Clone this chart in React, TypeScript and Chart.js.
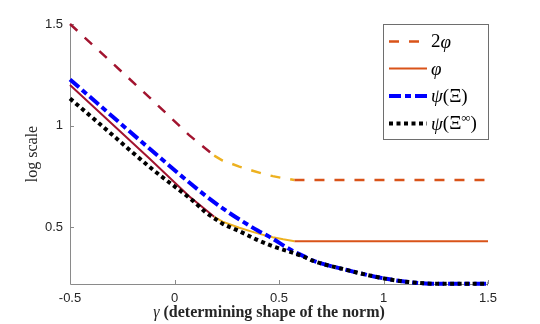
import React, { useEffect, useRef } from "react";
import { Chart, registerables } from "chart.js";

Chart.register(...registerables);

// ---- data ----
const phiGamma = [-0.5, -0.12, 0.07, 0.19, 0.23, 0.31, 0.37, 0.42, 0.47, 0.52, 0.574, 1.5];
const phiValues = [1.2, 0.838, 0.652, 0.551, 0.527, 0.497, 0.478, 0.463, 0.45, 0.44, 0.431, 0.431];
const twoPhiValues = [1.5, 1.139, 0.953, 0.852, 0.828, 0.798, 0.779, 0.764, 0.751, 0.741, 0.732, 0.732];

const psiGamma = [-0.5, -0.12, 0.136, 0.255, 0.335, 0.4, 0.455, 0.55, 0.62, 0.66, 0.82, 0.98, 1.1, 1.2, 1.25, 1.5];
const psiValues = [1.227, 0.887, 0.665, 0.575, 0.522, 0.482, 0.452, 0.392, 0.356, 0.336, 0.29, 0.252, 0.232, 0.223, 0.221, 0.221];

const psiInfGamma = [-0.5, -0.36, -0.1, 0.09, 0.15, 0.2, 0.23, 0.31, 0.39, 0.47, 0.55, 0.62, 0.66, 0.82, 0.98, 1.1, 1.2, 1.25, 1.5];
const psiInfValues = [1.133, 1.01, 0.78, 0.628, 0.572, 0.537, 0.517, 0.48, 0.44, 0.406, 0.379, 0.354, 0.335, 0.29, 0.252, 0.232, 0.223, 0.221, 0.221];

const xTicks = [-0.5, 0, 0.5, 1, 1.5];
const yTicks = [0.5, 1, 1.5];
const legendLabels = ["2φ", "φ", "ψ(Ξ)", "ψ(Ξ∞)"];
const xTitle = "γ (determining shape of the norm)";
const yTitle = "log scale";

// ---- styles ----
const CRIMSON = "#A2142F";
const YELLOW = "#EDB120";
const ORANGE = "#D95319";
const BLUE = "#0000FF";
const BLACK = "#000000";
const AXIS = "#8a8a8a";
const SERIF = "'Liberation Serif', 'DejaVu Serif', serif";
const SANS = "'Liberation Sans', Arial, sans-serif";

const toPts = (xs: number[], ys: number[]) => xs.map((x, i) => ({ x, y: ys[i] }));
const segColor = (ctx: any) => {
  const x = ctx.p0.parsed.x;
  return x < 0.18 ? CRIMSON : x < 0.57 ? YELLOW : ORANGE;
};

type Run = { t: string; italic?: boolean; bold?: boolean; sup?: boolean };

function toRuns(s: string): Run[] {
  const runs: Run[] = [];
  for (const ch of s) {
    if (/[α-ω]/.test(ch)) runs.push({ t: ch, italic: true });
    else if (ch === "∞") runs.push({ t: ch, sup: true });
    else runs.push({ t: ch });
  }
  return runs;
}

function fontFor(r: Run, size: number) {
  const s = r.sup ? Math.round(size * 0.7) : size;
  return `${r.italic ? "italic " : ""}${r.bold ? "bold " : ""}${s}px ${SERIF}`;
}

function runsWidth(ctx: CanvasRenderingContext2D, runs: Run[], size: number) {
  let w = 0;
  for (const r of runs) {
    ctx.font = fontFor(r, size);
    w += ctx.measureText(r.t).width;
  }
  return w;
}

function drawRuns(ctx: CanvasRenderingContext2D, runs: Run[], x: number, y: number, size: number) {
  ctx.textBaseline = "middle";
  ctx.textAlign = "left";
  let cx = x;
  for (const r of runs) {
    ctx.font = fontFor(r, size);
    ctx.fillText(r.t, cx, r.sup ? y - size * 0.3 : y);
    cx += ctx.measureText(r.t).width;
  }
}

const decorPlugin = {
  id: "decor",
  beforeDatasetsDraw(chart: any) {
    const { ctx, chartArea: a, scales } = chart;
    ctx.save();
    ctx.strokeStyle = AXIS;
    ctx.lineWidth = 1;
    ctx.beginPath();
    ctx.moveTo(a.left + 0.5, a.top);
    ctx.lineTo(a.left + 0.5, a.bottom + 0.5);
    ctx.lineTo(a.right, a.bottom + 0.5);
    ctx.stroke();
    ctx.beginPath();
    for (const v of xTicks) {
      const px = Math.round(scales.x.getPixelForValue(v)) + 0.5;
      ctx.moveTo(px, a.bottom);
      ctx.lineTo(px, a.bottom - 4);
    }
    for (const v of yTicks) {
      const py = Math.round(scales.y.getPixelForValue(v)) + 0.5;
      ctx.moveTo(a.left, py);
      ctx.lineTo(a.left + 4, py);
    }
    ctx.stroke();
    ctx.restore();
  },
  afterDraw(chart: any) {
    const { ctx } = chart;
    ctx.save();
    ctx.fillStyle = "#262626";
    // x title
    const xr: Run[] = [
      { t: xTitle.slice(0, 1), italic: true },
      { t: xTitle.slice(1), bold: true },
    ];
    const xw = runsWidth(ctx, xr, 16);
    drawRuns(ctx, xr, 269 - xw / 2, 313, 16);
    // y title
    ctx.save();
    ctx.translate(33, 154);
    ctx.rotate(-Math.PI / 2);
    ctx.font = `16px ${SERIF}`;
    ctx.textAlign = "center";
    ctx.textBaseline = "middle";
    ctx.fillText(yTitle, 0, 0);
    ctx.restore();

    // legend
    const bx = 383.5, by = 24.5, bw = 105, bh = 115;
    ctx.fillStyle = "#ffffff";
    ctx.fillRect(bx, by, bw, bh);
    ctx.strokeStyle = "#6e6e6e";
    ctx.lineWidth = 1;
    ctx.strokeRect(bx, by, bw, bh);
    const styles = [
      { c: ORANGE, w: 2.5, d: [10, 10] },
      { c: ORANGE, w: 2, d: [] },
      { c: BLUE, w: 4, d: [12, 4, 6, 4] },
      { c: BLACK, w: 4, d: [4, 3.5] },
    ];
    const ys = [41.5, 68.5, 96, 123.5];
    legendLabels.forEach((lab, i) => {
      const s = styles[i];
      ctx.save();
      ctx.strokeStyle = s.c;
      ctx.lineWidth = s.w;
      ctx.lineCap = "butt";
      ctx.setLineDash(s.d);
      ctx.beginPath();
      ctx.moveTo(389, ys[i]);
      ctx.lineTo(427, ys[i]);
      ctx.stroke();
      ctx.restore();
      ctx.fillStyle = "#000";
      drawRuns(ctx, toRuns(lab), 431, ys[i] + 1, 19);
    });
    ctx.restore();
  },
};

export default function App() {
  const ref = useRef<HTMLCanvasElement | null>(null);
  useEffect(() => {
    if (!ref.current) return;
    const chart = new Chart(ref.current, {
      type: "line",
      data: {
        datasets: [
          {
            label: legendLabels[3],
            data: toPts(psiInfGamma, psiInfValues),
            borderColor: BLACK,
            borderWidth: 4,
            borderDash: [4, 3.5],
            borderCapStyle: "butt",
            pointRadius: 0,
            cubicInterpolationMode: "monotone",
            clip: 8,
            order: 1,
          },
          {
            label: legendLabels[2],
            data: toPts(psiGamma, psiValues),
            borderColor: BLUE,
            borderWidth: 4,
            borderDash: [12, 4, 6, 4],
            borderCapStyle: "butt",
            pointRadius: 0,
            cubicInterpolationMode: "monotone",
            clip: 8,
            order: 2,
          },
          {
            label: legendLabels[1],
            data: toPts(phiGamma, phiValues),
            borderColor: ORANGE,
            borderWidth: 2,
            pointRadius: 0,
            segment: { borderColor: segColor },
            clip: 8,
            order: 3,
          },
          {
            label: legendLabels[0],
            data: toPts(phiGamma, twoPhiValues),
            borderColor: ORANGE,
            borderWidth: 2.5,
            borderDash: [10, 10],
            borderCapStyle: "butt",
            pointRadius: 0,
            segment: { borderColor: segColor },
            clip: 8,
            order: 4,
          },
        ],
      } as any,
      options: {
        responsive: false,
        animation: false,
        layout: { padding: { left: 0, top: 24, right: 52, bottom: 0 } },
        plugins: { legend: { display: false }, tooltip: { enabled: false } },
        scales: {
          x: {
            type: "linear",
            min: -0.5,
            max: 1.5,
            afterBuildTicks: (s: any) => {
              s.ticks = xTicks.map((v) => ({ value: v }));
            },
            afterFit: (s: any) => {
              s.height = 40;
            },
            grid: { display: false, drawTicks: false },
            border: { display: false },
            ticks: {
              padding: 7,
              color: "#262626",
              font: { family: SANS, size: 13 },
              callback: (v: any) => String(v),
              maxRotation: 0,
            },
          },
          y: {
            type: "linear",
            min: 0.22,
            max: 1.5,
            afterBuildTicks: (s: any) => {
              s.ticks = yTicks.map((v) => ({ value: v }));
            },
            afterFit: (s: any) => {
              s.width = 70;
            },
            grid: { display: false, drawTicks: false },
            border: { display: false },
            ticks: {
              padding: 7,
              color: "#262626",
              font: { family: SANS, size: 13 },
              callback: (v: any) => String(v),
            },
          },
        },
      } as any,
      plugins: [decorPlugin],
    });
    return () => chart.destroy();
  }, []);
  return (
    <div style={{ position: "absolute", left: 0, top: 0, width: 540, height: 324, background: "#fff" }}>
      <canvas ref={ref} width={540} height={324} style={{ display: "block" }} />
    </div>
  );
}
